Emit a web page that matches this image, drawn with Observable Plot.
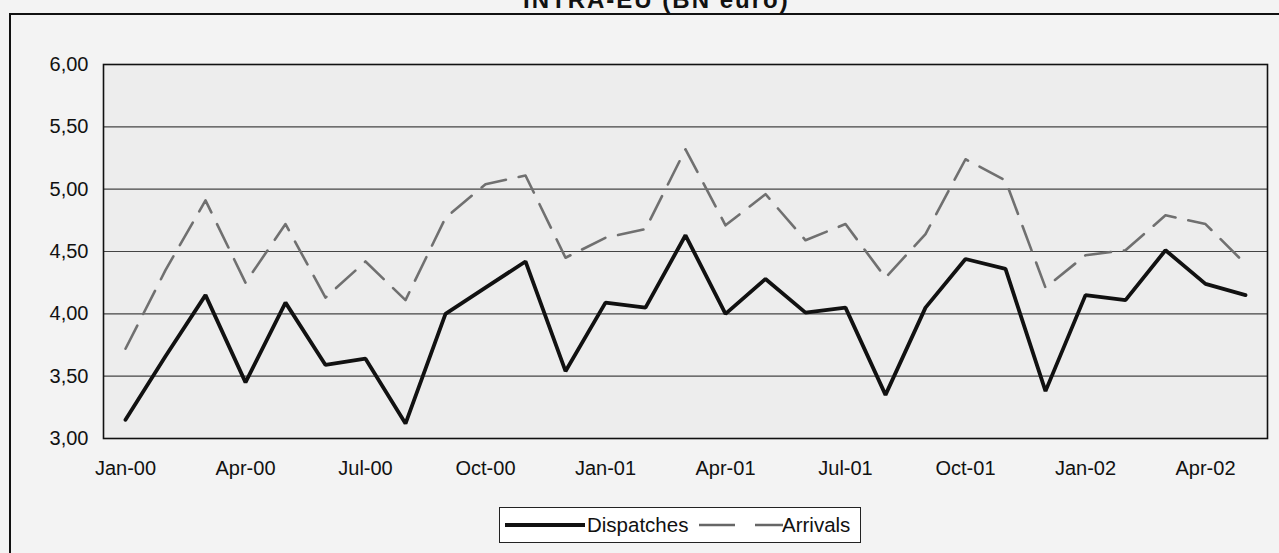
<!DOCTYPE html>
<html><head><meta charset="utf-8">
<script src="https://cdn.jsdelivr.net/npm/d3@7"></script>
<script src="https://cdn.jsdelivr.net/npm/@observablehq/plot@0.6"></script>
<style>
html,body{margin:0;padding:0;background:#f3f3f3;}
#wrap{position:relative;width:1279px;height:553px;overflow:hidden;font-family:"Liberation Sans",Arial,sans-serif;background:#f3f3f3;}
#title{position:absolute;left:523px;top:-12px;white-space:nowrap;font-weight:bold;font-size:24px;line-height:24px;letter-spacing:2px;color:#111;}
#frame{position:absolute;left:9px;top:13px;width:1300px;height:600px;border-left:2px solid #111;border-top:2px solid #111;}
#chart{position:absolute;left:0;top:0;}
#legend{position:absolute;left:499px;top:507px;width:360px;height:34px;background:#fff;border:1.5px solid #222;font-size:20.5px;color:#111;}
#legend svg{position:absolute;top:12px}
#legend span{position:absolute;top:5px;line-height:24px}
</style></head>
<body><div id="wrap">
<div id="frame"></div>
<div id="title">INTRA-EU (BN euro)</div>
<div id="chart"></div>
<div id="legend">
 <svg width="80" height="10" style="left:5px"><line x1="0" y1="5" x2="80" y2="5" stroke="#111" stroke-width="4"/></svg>
 <span style="left:87px">Dispatches</span>
 <svg width="84" height="10" style="left:199px"><line x1="0" y1="5" x2="84" y2="5" stroke="#666" stroke-width="2.5" stroke-dasharray="36,20"/></svg>
 <span style="left:282px">Arrivals</span>
</div>
</div>
<script>
const months = ["Jan-00","Feb-00","Mar-00","Apr-00","May-00","Jun-00","Jul-00","Aug-00","Sep-00","Oct-00","Nov-00","Dec-00",
"Jan-01","Feb-01","Mar-01","Apr-01","May-01","Jun-01","Jul-01","Aug-01","Sep-01","Oct-01","Nov-01","Dec-01",
"Jan-02","Feb-02","Mar-02","Apr-02","May-02"];
const dispatches = [3.15,3.66,4.15,3.45,4.09,3.59,3.64,3.12,4.00,4.21,4.42,3.54,
4.09,4.05,4.63,4.00,4.28,4.01,4.05,3.35,4.05,4.44,4.36,3.38,
4.15,4.11,4.51,4.24,4.15];
const arrivals = [3.72,4.35,4.91,4.25,4.72,4.13,4.42,4.11,4.77,5.04,5.11,4.45,
4.61,4.68,5.32,4.71,4.96,4.59,4.72,4.29,4.64,5.24,5.07,4.21,
4.47,4.51,4.79,4.72,4.40];
const xTickLabels = ["Jan-00","Apr-00","Jul-00","Oct-00","Jan-01","Apr-01","Jul-01","Oct-01","Jan-02","Apr-02"];
const yTicks = [3.0,3.5,4.0,4.5,5.0,5.5,6.0];

const dData = months.map((m,i)=>({month:m,value:dispatches[i]}));
const aData = months.map((m,i)=>({month:m,value:arrivals[i]}));
const fmt = d => d.toFixed(2).replace(".", ",");

const chart = Plot.plot({
  width:1279, height:553,
  marginLeft:103, marginRight:12, marginTop:64, marginBottom:115,
  style:{background:"transparent", fontFamily:"'Liberation Sans',Arial,sans-serif", fontSize:"20px", color:"#111"},
  x:{type:"point", domain:months, padding:0.5, label:null},
  y:{domain:[3,6], label:null},
  marks:[
    Plot.frame({fill:"#ededed", stroke:"none"}),
    Plot.ruleY(yTicks.slice(1,-1),{stroke:"#444", strokeWidth:1.2}),
    Plot.line(aData,{x:"month",y:"value",stroke:"#707070",strokeWidth:2.6,strokeDasharray:"26,13"}),
    Plot.line(dData,{x:"month",y:"value",stroke:"#111",strokeWidth:3.8,strokeLinejoin:"miter"}),
    Plot.frame({stroke:"#111", strokeWidth:1.6}),
    Plot.axisY({ticks:yTicks, tickFormat:fmt, tickSize:0, tickPadding:15, fontSize:20, label:null}),
    Plot.axisX({ticks:xTickLabels, tickSize:0, tickPadding:22, fontSize:20, label:null})
  ]
});
document.getElementById("chart").appendChild(chart);
</script>
</body></html>
